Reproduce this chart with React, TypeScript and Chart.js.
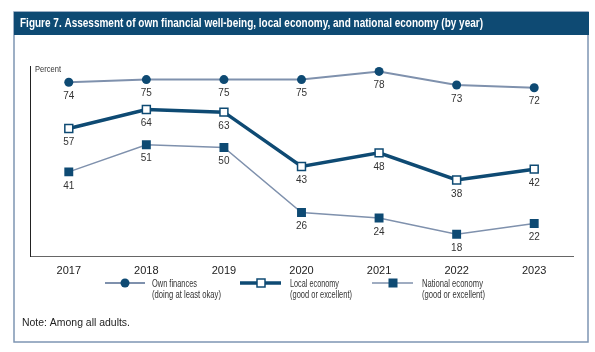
import React, { useEffect, useRef } from "react";
import { Chart, registerables } from "chart.js";

Chart.register(...registerables);

const years = ["2017", "2018", "2019", "2020", "2021", "2022", "2023"];
const ownFinances = [74, 75, 75, 75, 78, 73, 72];
const localEconomy = [57, 64, 63, 43, 48, 38, 42];
const nationalEconomy = [41, 51, 50, 26, 24, 18, 22];
const legendLines1 = ["Own finances", "Local economy", "National economy"];
const legendLines2 = ["(doing at least okay)", "(good or excellent)", "(good or excellent)"];
const titleText =
  "Figure 7. Assessment of own financial well-being, local economy, and national economy (by year)";
const noteText = "Note: Among all adults.";
const yAxisLabel = "Percent";

const DARK = "#0e4a73";
const GREY_LINE = "#7f91ad";
const FONT = "'Liberation Sans', Arial, sans-serif";

function drawMarker(ctx: CanvasRenderingContext2D, kind: number, x: number, y: number) {
  ctx.save();
  if (kind === 0) {
    ctx.fillStyle = DARK;
    ctx.beginPath();
    ctx.arc(x, y, 4.5, 0, Math.PI * 2);
    ctx.fill();
  } else if (kind === 1) {
    ctx.fillStyle = "#fff";
    ctx.strokeStyle = DARK;
    ctx.lineWidth = 1.5;
    ctx.fillRect(x - 4, y - 4, 8, 8);
    ctx.strokeRect(x - 4, y - 4, 8, 8);
  } else {
    ctx.fillStyle = DARK;
    ctx.fillRect(x - 4.5, y - 4.5, 9, 9);
  }
  ctx.restore();
}

const framePlugin = {
  id: "frame",
  beforeDraw(chart: any) {
    const ctx = chart.ctx as CanvasRenderingContext2D;
    ctx.save();
    ctx.fillStyle = "#fff";
    ctx.fillRect(0, 0, chart.width, chart.height);
    // outer frame
    ctx.strokeStyle = "#7e95b3";
    ctx.lineWidth = 1.5;
    ctx.strokeRect(14, 12, 574, 330);
    // title bar
    ctx.fillStyle = DARK;
    ctx.fillRect(14, 12, 575, 23);
    ctx.fillStyle = "#fff";
    ctx.font = `bold 12.5px ${FONT}`;
    ctx.textBaseline = "middle";
    ctx.textAlign = "left";
    ctx.fillText(titleText, 20, 24, 463);
    ctx.restore();
  },
  afterDraw(chart: any) {
    const ctx = chart.ctx as CanvasRenderingContext2D;
    ctx.save();
    // y axis label
    ctx.fillStyle = "#333";
    ctx.font = `9.5px ${FONT}`;
    ctx.textBaseline = "middle";
    ctx.textAlign = "left";
    ctx.fillText(yAxisLabel, 35, 69, 26);

    // legend
    const items = [
      { x1: 105, x2: 145, mx: 125, tx: 152, w1: 45, w2: 69, lw: 2, color: GREY_LINE },
      { x1: 240, x2: 281, mx: 261, tx: 290, w1: 49, w2: 62, lw: 3.5, color: DARK },
      { x1: 372, x2: 413, mx: 393, tx: 422, w1: 61, w2: 63, lw: 1.5, color: GREY_LINE },
    ];
    const ly = 283;
    items.forEach((it, i) => {
      ctx.strokeStyle = it.color;
      ctx.lineWidth = it.lw;
      ctx.beginPath();
      ctx.moveTo(it.x1, ly);
      ctx.lineTo(it.x2, ly);
      ctx.stroke();
      drawMarker(ctx, i, it.mx, ly);
      ctx.fillStyle = "#333";
      ctx.font = `10.5px ${FONT}`;
      ctx.textAlign = "left";
      ctx.textBaseline = "middle";
      ctx.fillText(legendLines1[i], it.tx, ly + 1, it.w1);
      ctx.fillText(legendLines2[i], it.tx, ly + 12, it.w2);
    });

    // note
    ctx.fillStyle = "#222";
    ctx.font = `10.5px ${FONT}`;
    ctx.fillText(noteText, 22, 323, 108);
    ctx.restore();
  },
};

const labelPlugin = {
  id: "pointLabels",
  afterDatasetsDraw(chart: any) {
    const ctx = chart.ctx as CanvasRenderingContext2D;
    ctx.save();
    ctx.fillStyle = "#333";
    ctx.font = `10px ${FONT}`;
    ctx.textAlign = "center";
    ctx.textBaseline = "middle";
    chart.data.datasets.forEach((ds: any, di: number) => {
      const meta = chart.getDatasetMeta(di);
      meta.data.forEach((pt: any, i: number) => {
        ctx.fillText(String(ds.data[i]), pt.x, pt.y + 14);
      });
    });
    ctx.restore();
  },
};

export default function App() {
  const ref = useRef<HTMLCanvasElement | null>(null);
  useEffect(() => {
    document.body.style.margin = "0";
    const canvas = ref.current!;
    const chart = new Chart(canvas, {
      type: "line",
      data: {
        labels: years,
        datasets: [
          {
            label: "Own finances",
            data: ownFinances,
            borderColor: GREY_LINE,
            borderWidth: 2,
            pointStyle: "circle",
            pointRadius: 4.5,
            pointBackgroundColor: DARK,
            pointBorderColor: DARK,
            pointBorderWidth: 0,
            tension: 0,
          },
          {
            label: "Local economy",
            data: localEconomy,
            borderColor: DARK,
            borderWidth: 3.5,
            pointStyle: "rect",
            pointRadius: 5.6,
            pointBackgroundColor: "#fff",
            pointBorderColor: DARK,
            pointBorderWidth: 1.5,
            tension: 0,
          },
          {
            label: "National economy",
            data: nationalEconomy,
            borderColor: GREY_LINE,
            borderWidth: 1.5,
            pointStyle: "rect",
            pointRadius: 6.3,
            pointBackgroundColor: DARK,
            pointBorderColor: DARK,
            pointBorderWidth: 0,
            tension: 0,
          },
        ],
      },
      options: {
        responsive: false,
        animation: false,
        devicePixelRatio: 1,
        layout: { padding: { left: 30, right: 22, top: 66, bottom: 0 } },
        plugins: {
          legend: { display: false },
          tooltip: { enabled: false },
          title: { display: false },
        },
        scales: {
          x: {
            type: "category",
            offset: true,
            grid: { display: false, drawTicks: false },
            border: { display: true, color: "#666", width: 1 },
            ticks: { color: "#222", font: { size: 11, family: FONT }, padding: 8, maxRotation: 0 },
            afterFit: (s: any) => {
              s.height = 96;
            },
          },
          y: {
            min: 10,
            max: 80,
            ticks: { display: false },
            grid: { display: false, drawTicks: false },
            border: { display: true, color: "#222", width: 1 },
            afterFit: (s: any) => {
              s.width = 0;
            },
          },
        },
      } as any,
      plugins: [framePlugin, labelPlugin],
    });
    return () => chart.destroy();
  }, []);
  return (
    <div style={{ width: 595, height: 352 }}>
      <canvas ref={ref} width={595} height={352} style={{ display: "block", width: 595, height: 352 }} />
    </div>
  );
}
